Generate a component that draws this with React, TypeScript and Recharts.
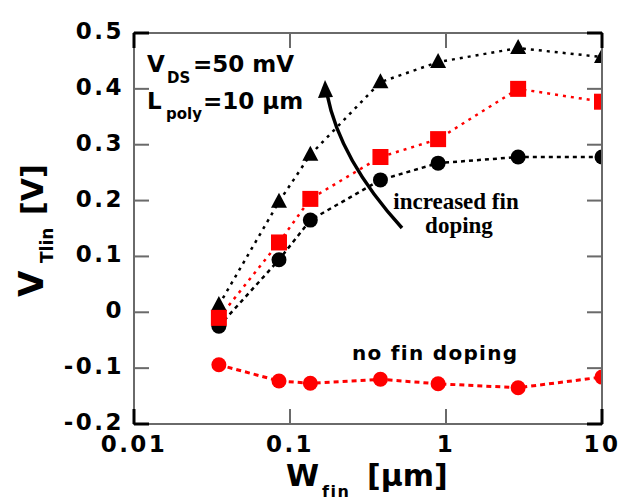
import React from 'react'
import { LineChart, Line, XAxis, YAxis } from 'recharts'

const widths = [0.035, 0.085, 0.135, 0.38, 0.89, 2.9, 10]
const vtTriangle = [0.013, 0.198, 0.282, 0.412, 0.448, 0.473, 0.457]
const vtSquare = [-0.01, 0.125, 0.203, 0.278, 0.31, 0.4, 0.377]
const vtBlackCircle = [-0.025, 0.094, 0.165, 0.237, 0.267, 0.278, 0.278]
const vtNoDoping = [-0.094, -0.123, -0.127, -0.12, -0.128, -0.135, -0.116]

const xTicks = [0.01, 0.1, 1, 10]
const yTicks = [-0.2, -0.1, 0, 0.1, 0.2, 0.3, 0.4, 0.5]

const X_MIN = 0.01
const X_MAX = 10
const Y_MIN = -0.2
const Y_MAX = 0.5

const data = widths.map((w, i) => ({
  w,
  tri: vtTriangle[i],
  sq: vtSquare[i],
  bc: vtBlackCircle[i],
  rc: vtNoDoping[i],
}))

const FRAME = '#6a6a6a'
const SANS = '"DejaVu Sans", Verdana, sans-serif'

// plot box (matches chart margin + axis sizes below)
const LEFT = 134
const TOP = 33
const RIGHT = 602
const BOTTOM = 424
const TICK_LEN = 15

const px = (v: number) => LEFT + (Math.log10(v / X_MIN) / Math.log10(X_MAX / X_MIN)) * (RIGHT - LEFT)
const py = (v: number) => TOP + ((Y_MAX - v) / (Y_MAX - Y_MIN)) * (BOTTOM - TOP)

const isEnd = (v: number, ends: number[]) => ends.some(e => Math.abs(e - v) < 1e-9)

const LeftTick = ({ x, y, payload }: any) => (
  <text x={x - 10} y={y + 6} textAnchor="end" fontFamily={SANS} fontWeight="bold" fontSize={23} letterSpacing={2.5} fill="#000">
    {String(payload.value)}
  </text>
)

const BottomTick = ({ x, y, payload }: any) => (
  <text x={x} y={y + 28} textAnchor="middle" fontFamily={SANS} fontWeight="bold" fontSize={23} letterSpacing={2.5} fill="#000">
    {String(payload.value)}
  </text>
)

const TriangleDot = ({ cx, cy, index }: any) => (
  <polygon key={index} points={`${cx},${cy - 9} ${cx - 8},${cy + 6} ${cx + 8},${cy + 6}`} fill="#000" />
)
const SquareDot = ({ cx, cy, index }: any) => (
  <rect key={index} x={cx - 8} y={cy - 8} width={16} height={16} fill="#ff0000" />
)
const BlackDot = ({ cx, cy, index }: any) => <circle key={index} cx={cx} cy={cy} r={7.5} fill="#000" />
const RedDot = ({ cx, cy, index }: any) => <circle key={index} cx={cx} cy={cy} r={7.5} fill="#ff0000" />

// frame and inner ticks drawn as thin filled bars
function FrameBars() {
  const bars: React.ReactElement[] = []
  bars.push(<rect key="top" x={LEFT - 1} y={TOP - 1} width={RIGHT - LEFT + 2} height={2} fill={FRAME} />)
  bars.push(<rect key="right" x={RIGHT - 1} y={TOP - 1} width={2} height={BOTTOM - TOP + 2} fill={FRAME} />)
  bars.push(<rect key="bottom" x={LEFT - 1} y={BOTTOM - 1} width={RIGHT - LEFT + 2} height={2} fill={FRAME} />)
  bars.push(<rect key="left" x={LEFT - 1} y={TOP - 1} width={2} height={BOTTOM - TOP + 2} fill={FRAME} />)
  yTicks.forEach(v => {
    const end = isEnd(v, [Y_MIN, Y_MAX])
    const t = end ? 3 : 2
    const c = end ? '#000' : FRAME
    const y = py(v)
    bars.push(<rect key={`yl${v}`} x={LEFT} y={y - t / 2} width={TICK_LEN} height={t} fill={c} />)
    bars.push(<rect key={`yr${v}`} x={RIGHT - TICK_LEN} y={y - t / 2} width={TICK_LEN} height={t} fill={c} />)
  })
  xTicks.forEach(v => {
    const end = isEnd(v, [X_MIN, X_MAX])
    const t = end ? 3 : 2
    const c = end ? '#000' : FRAME
    const x = px(v)
    bars.push(<rect key={`xb${v}`} x={x - t / 2} y={BOTTOM - TICK_LEN} width={t} height={TICK_LEN} fill={c} />)
    bars.push(<rect key={`xt${v}`} x={x - t / 2} y={TOP} width={t} height={TICK_LEN} fill={c} />)
  })
  return <g>{bars}</g>
}

export default function App() {
  return (
    <div style={{ position: 'relative', width: 622, height: 501 }}>
      <style>{'body{margin:0}'}</style>
      <LineChart width={622} height={501} data={data} margin={{ top: TOP, right: 622 - RIGHT, bottom: 0, left: 0 }}>
        <XAxis xAxisId="b" dataKey="w" type="number" scale="log" domain={[X_MIN, X_MAX]} ticks={xTicks} interval={0}
          allowDataOverflow height={501 - BOTTOM} tickSize={0} tickMargin={0} tickLine={false}
          axisLine={{ stroke: FRAME, strokeWidth: 2 }} tick={(p: any) => <BottomTick {...p} />} />
        <YAxis yAxisId="l" type="number" domain={[Y_MIN, Y_MAX]} ticks={yTicks} interval={0} width={LEFT}
          allowDataOverflow tickSize={0} tickMargin={0} tickLine={false} axisLine={{ stroke: FRAME, strokeWidth: 2 }}
          tick={(p: any) => <LeftTick {...p} />} />
        <Line xAxisId="b" yAxisId="l" dataKey="rc" stroke="#ff0000" strokeWidth={3} strokeDasharray="5 4"
          dot={(p: any) => <RedDot {...p} />} isAnimationActive={false} />
        <Line xAxisId="b" yAxisId="l" dataKey="bc" stroke="#000" strokeWidth={2.5} strokeDasharray="4 4"
          dot={(p: any) => <BlackDot {...p} />} isAnimationActive={false} />
        <Line xAxisId="b" yAxisId="l" dataKey="tri" stroke="#000" strokeWidth={2.5} strokeDasharray="3 5"
          dot={(p: any) => <TriangleDot {...p} />} isAnimationActive={false} />
        <Line xAxisId="b" yAxisId="l" dataKey="sq" stroke="#ff0000" strokeWidth={2.5} strokeDasharray="3 5"
          dot={(p: any) => <SquareDot {...p} />} isAnimationActive={false} />
      </LineChart>

      {/* frame, inner ticks, labels and annotations */}
      <svg width={622} height={501} style={{ position: 'absolute', left: 0, top: 0, pointerEvents: 'none' }}>
        <FrameBars />

        <g fontFamily={SANS} fontWeight="bold" fill="#000">
          <g transform="translate(43,297) rotate(-90)">
            <text x={0} y={0} fontSize={34}>V</text>
            <text x={34} y={10} fontSize={17}>Tlin</text>
            <text x={82} y={0} fontSize={30}>[V]</text>
          </g>
          <text x={286} y={486} fontSize={30}>W</text>
          <text x={322} y={497} fontSize={16} letterSpacing={1.5}>fin</text>
          <text x={367} y={486} fontSize={30}>[μm]</text>

          <text x={147} y={72} fontSize={23}>V</text>
          <text x={167} y={83} fontSize={15}>DS</text>
          <text x={193} y={72} fontSize={23}>=50 mV</text>
          <text x={147} y={109} fontSize={23}>L</text>
          <text x={166} y={119} fontSize={15}>poly</text>
          <text x={203} y={109} fontSize={23}>=10 μm</text>

          <text x={352} y={360} fontSize={20} letterSpacing={1.3}>no fin doping</text>
        </g>
        <g fontFamily='"Liberation Serif", "Times New Roman", serif' fontWeight="bold" fontSize={23} fill="#000" textAnchor="middle">
          <text x={456} y={209}>increased fin</text>
          <text x={459} y={233}>doping</text>
        </g>
        <path d="M402,228 Q340,160 327,94" fill="none" stroke="#000" strokeWidth={3.5} />
        <polygon points="325,80 318,98 333,97" fill="#000" />
      </svg>
    </div>
  )
}
